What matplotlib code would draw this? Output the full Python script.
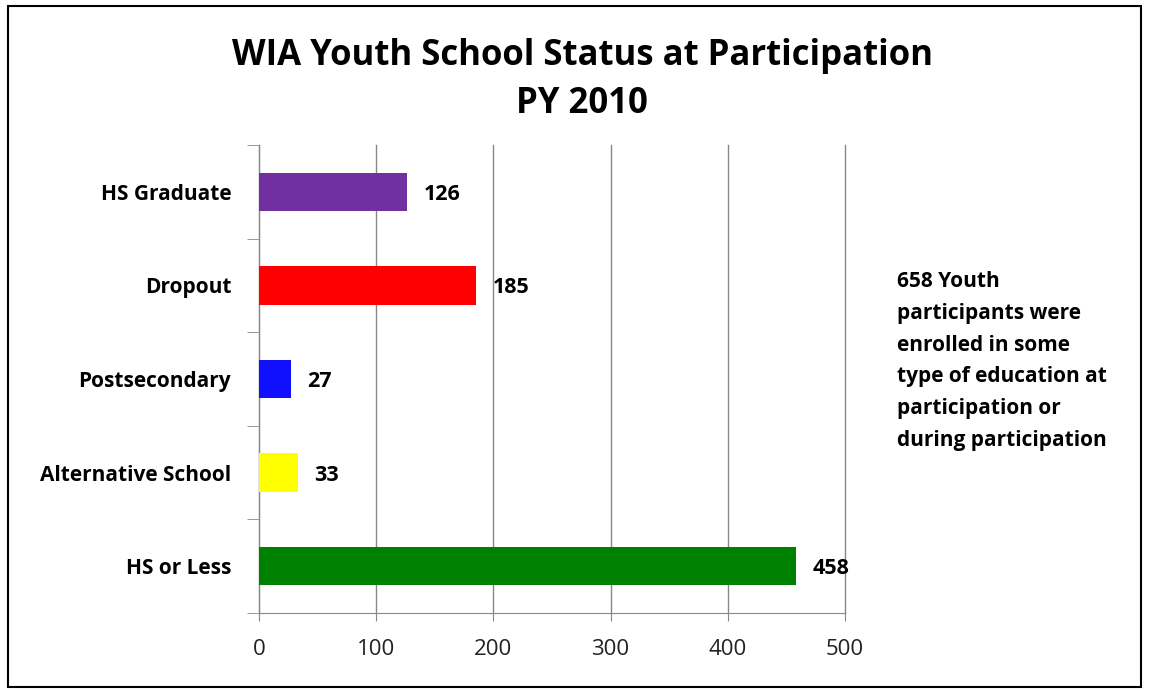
import numpy as np
import matplotlib.pyplot as plt
from matplotlib.patches import Rectangle

# data (top to bottom as shown)
categories = ['HS Graduate', 'Dropout', 'Postsecondary', 'Alternative School', 'HS or Less']
values = [126, 185, 27, 33, 458]
colors = ['#7030A0', '#FF0000', '#1010FF', '#FFFF00', '#008000']
x_ticks = [0, 100, 200, 300, 400, 500]
title = 'WIA Youth School Status at Participation\nPY 2010'
note = ('658 Youth\nparticipants were\nenrolled in some\ntype of education at\n'
        'participation or\nduring participation')

plt.rcParams['font.family'] = ['Open Sans', 'DejaVu Sans']

fig = plt.figure(figsize=(11.51, 6.9), dpi=100)
ax = fig.add_axes([259/1151, 1 - 613/690, (845 - 259)/1151, (613 - 145)/690])

n = len(categories)
y = np.arange(n)[::-1]
ax.barh(y, values, height=0.41, color=colors, zorder=3)

for yi, v in zip(y, values):
    ax.annotate(str(v), (v, yi), xytext=(12, 0), textcoords='offset points',
                ha='left', va='center_baseline', fontsize=15.5, fontweight='bold')

ax.set_xlim(0, 500)
ax.set_ylim(-0.5, n - 0.5)
ax.set_xticks(x_ticks)
ax.set_xticklabels([str(t) for t in x_ticks], fontsize=16, color='#222222')
ax.tick_params(axis='x', length=6, color='#888888', pad=13)

ax.set_yticks(y)
ax.set_yticklabels(categories, fontsize=15, fontweight='bold')
ax.tick_params(axis='y', which='major', length=0, pad=20)
ax.set_yticks(np.arange(-0.5, n, 1.0), minor=True)
ax.tick_params(axis='y', which='minor', length=9, color='#888888')

ax.grid(axis='x', color='#888888', linewidth=1, zorder=0)
for gl in ax.get_xgridlines():
    gl.set_clip_on(False)
for s in ['top', 'right']:
    ax.spines[s].set_visible(False)
for s in ['left', 'bottom']:
    ax.spines[s].set_color('#888888')

fig.text(582/1151, 1 - 80/690, title, ha='center', va='center',
         fontsize=25, fontweight='bold', linespacing=1.45)

fig.text(897/1151, 1 - 361/690, note, ha='left', va='center',
         fontsize=15, fontweight='bold', linespacing=1.68)

fig.patches.append(Rectangle((8/1151, 1 - 687/690), (1141 - 8)/1151, (687 - 6)/690,
                             transform=fig.transFigure, fill=False,
                             edgecolor='black', linewidth=1.5))

fig.savefig('out.png', dpi=100)
